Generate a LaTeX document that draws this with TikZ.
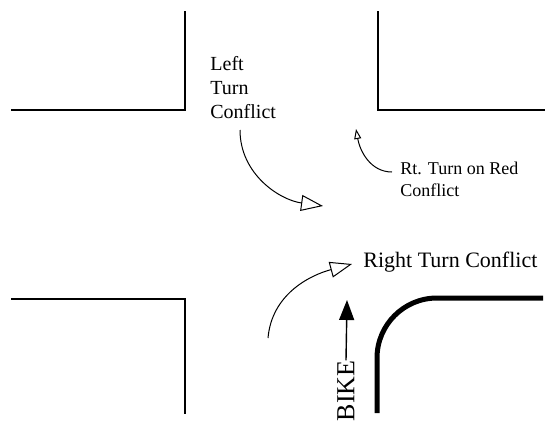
\documentclass[tikz,border=0pt]{standalone}
\usepackage{fontspec}
\setmainfont{Liberation Serif}
\usetikzlibrary{arrows.meta}

\begin{document}
\begin{tikzpicture}[x=0.5pt, y=0.5pt,
    road/.style={line width=1pt},
    curb/.style={line width=2.5pt},
    conflict/.style={line width=0.5pt, -{Triangle[open, length=11pt, width=8pt]}},
    label/.style={inner sep=0pt, align=left}]
    \useasboundingbox (0,0) rectangle (545,-423);

    % street corners
    \draw[road] (185,-11) -- (185,-110) -- (11,-110);
    \draw[road] (378,-11) -- (378,-110) -- (545,-110);
    \draw[road] (11,-299) -- (185,-299) -- (185,-414);
    \draw[curb] (377,-413) -- (377,-358) arc[start angle=180, end angle=90, radius=60] -- (543,-298);

    % labels
    \node[label, anchor=north west, font=\fontsize{10}{12}\selectfont] (ltc) at (210,-56) {Left\\Turn\\Conflict};
    \node[label, anchor=north west, font=\fontsize{9}{11}\selectfont] (rtor) at (400,-162) {Rt. Turn on Red\\Conflict};
    \node[label, anchor=base west, font=\fontsize{11}{13}\selectfont] (rtc) at (363,-267) {Right Turn Conflict};
    \node[label, rotate=90, font=\fontsize{13}{15}\selectfont] (bike) at (346,-391) {BIKE};

    \coordinate (ltStart) at (240,-130);
    \coordinate (ltTip) at (323,-206);
    \coordinate (rorStart) at (392,-172);
    \coordinate (rorTip) at (356,-129);
    \coordinate (rtStart) at (268,-338);
    \coordinate (rtTip) at (352,-264);
    \coordinate (bikeTip) at (347,-300);

    % conflicts
    \draw[conflict] (ltStart) to[out=-90, in=172] (ltTip);
    \draw[conflict, -{Triangle[open, length=5pt, width=3.5pt]}] (rorStart) to[out=180, in=-80] (rorTip);
    \draw[conflict] (rtStart) to[out=85, in=195] (rtTip);
    \draw[line width=0.7pt, -{Triangle[length=10pt, width=7.5pt]}] (bike.east) -- (bikeTip);
\end{tikzpicture}
\end{document}
